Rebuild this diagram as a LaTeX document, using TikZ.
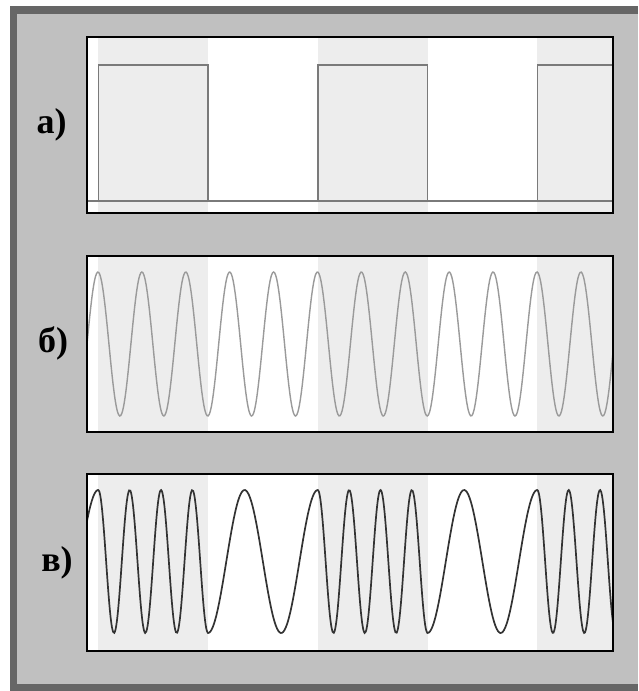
\documentclass[tikz,border=0pt]{standalone}
\usepackage{fontspec}
\setmainfont{Liberation Serif}
\usepackage{tikz}
\usetikzlibrary{positioning}
\definecolor{FrameDark}{HTML}{666666}
\definecolor{PanelBack}{HTML}{C0C0C0}
\definecolor{BitOne}{HTML}{EDEDED}
\definecolor{SquareGray}{HTML}{7A7A7A}
\definecolor{CarrierGray}{HTML}{9A9A9A}
\definecolor{FskDark}{HTML}{333333}

\begin{document}
\begin{tikzpicture}[x=1pt, y=-1pt,
  every node/.style={font=\fontsize{36}{40}\selectfont\bfseries, inner sep=0pt},
  lbl/.style={anchor=base},
  panel/.style={draw=black, line width=2pt},
  band/.style={fill=BitOne},
  sqw/.style={draw=SquareGray, line width=1.6pt, line join=miter},
  carrier/.style={draw=CarrierGray, line width=1.4pt},
  fsk/.style={draw=FskDark, line width=1.7pt, line cap=round}]

  % ===== outer frame =====
  \useasboundingbox (0,0) rectangle (638,691);
  \fill[white] (0,0) rectangle (638,691);
  \fill[FrameDark] (10,6) rectangle (638,691);
  \fill[PanelBack] (17,14) rectangle (638,684);

  % ===== panels: white back + bit bands =====
  \foreach \top/\bot in {37/213, 256/432, 474/651} {
    \fill[white] (87,\top) rectangle (613,\bot);
    \foreach \xa/\xb in {98.3/208, 317.8/427.5, 537.3/613}
      \fill[band] (\xa,\top) rectangle (\xb,\bot);
  }

  % ===== a) data bits =====
  \draw[sqw] (87,201) -- (613,201);
  \draw[sqw] (87,201) -- (98.3,201) -- (98.3,65) -- (208,65) -- (208,201)
        -- (317.8,201) -- (317.8,65) -- (427.5,65) -- (427.5,201)
        -- (537.3,201) -- (537.3,65) -- (613,65);

  % ===== b) carrier (degrees per px = 360/43.9) =====
  \draw[carrier] plot[domain=87:613, samples=500, smooth]
        (\x, {344-72*sin(8.2005*(\x-87))});

  % ===== c) frequency keyed signal (4.92 deg/px low, 11.48 deg/px high) =====
  \foreach \xa/\xb/\r/\k/\s in {87/98.3/98.3/4.920/1, 98.3/208/98.3/11.480/1,
        208/317.8/208/4.920/-1, 317.8/427.5/317.8/11.480/1,
        427.5/537.3/427.5/4.920/-1, 537.3/613/537.3/11.480/1}
    \draw[fsk] plot[domain=\xa:\xb, samples=90, smooth]
        (\x, {561.5-\s*71.5*cos(\k*(\x-\r))});

  % ===== panel frames =====
  \draw[panel] (87,37) rectangle (613,213);
  \draw[panel] (87,256) rectangle (613,432);
  \draw[panel] (87,474) rectangle (613,651);

  % ===== labels =====
  \node[lbl] (la) at (51.5,133) {а)};
  \node[lbl] (lb) at (53,352) {б)};
  \node[lbl] (lc) at (57,571) {в)};

\end{tikzpicture}
\end{document}
